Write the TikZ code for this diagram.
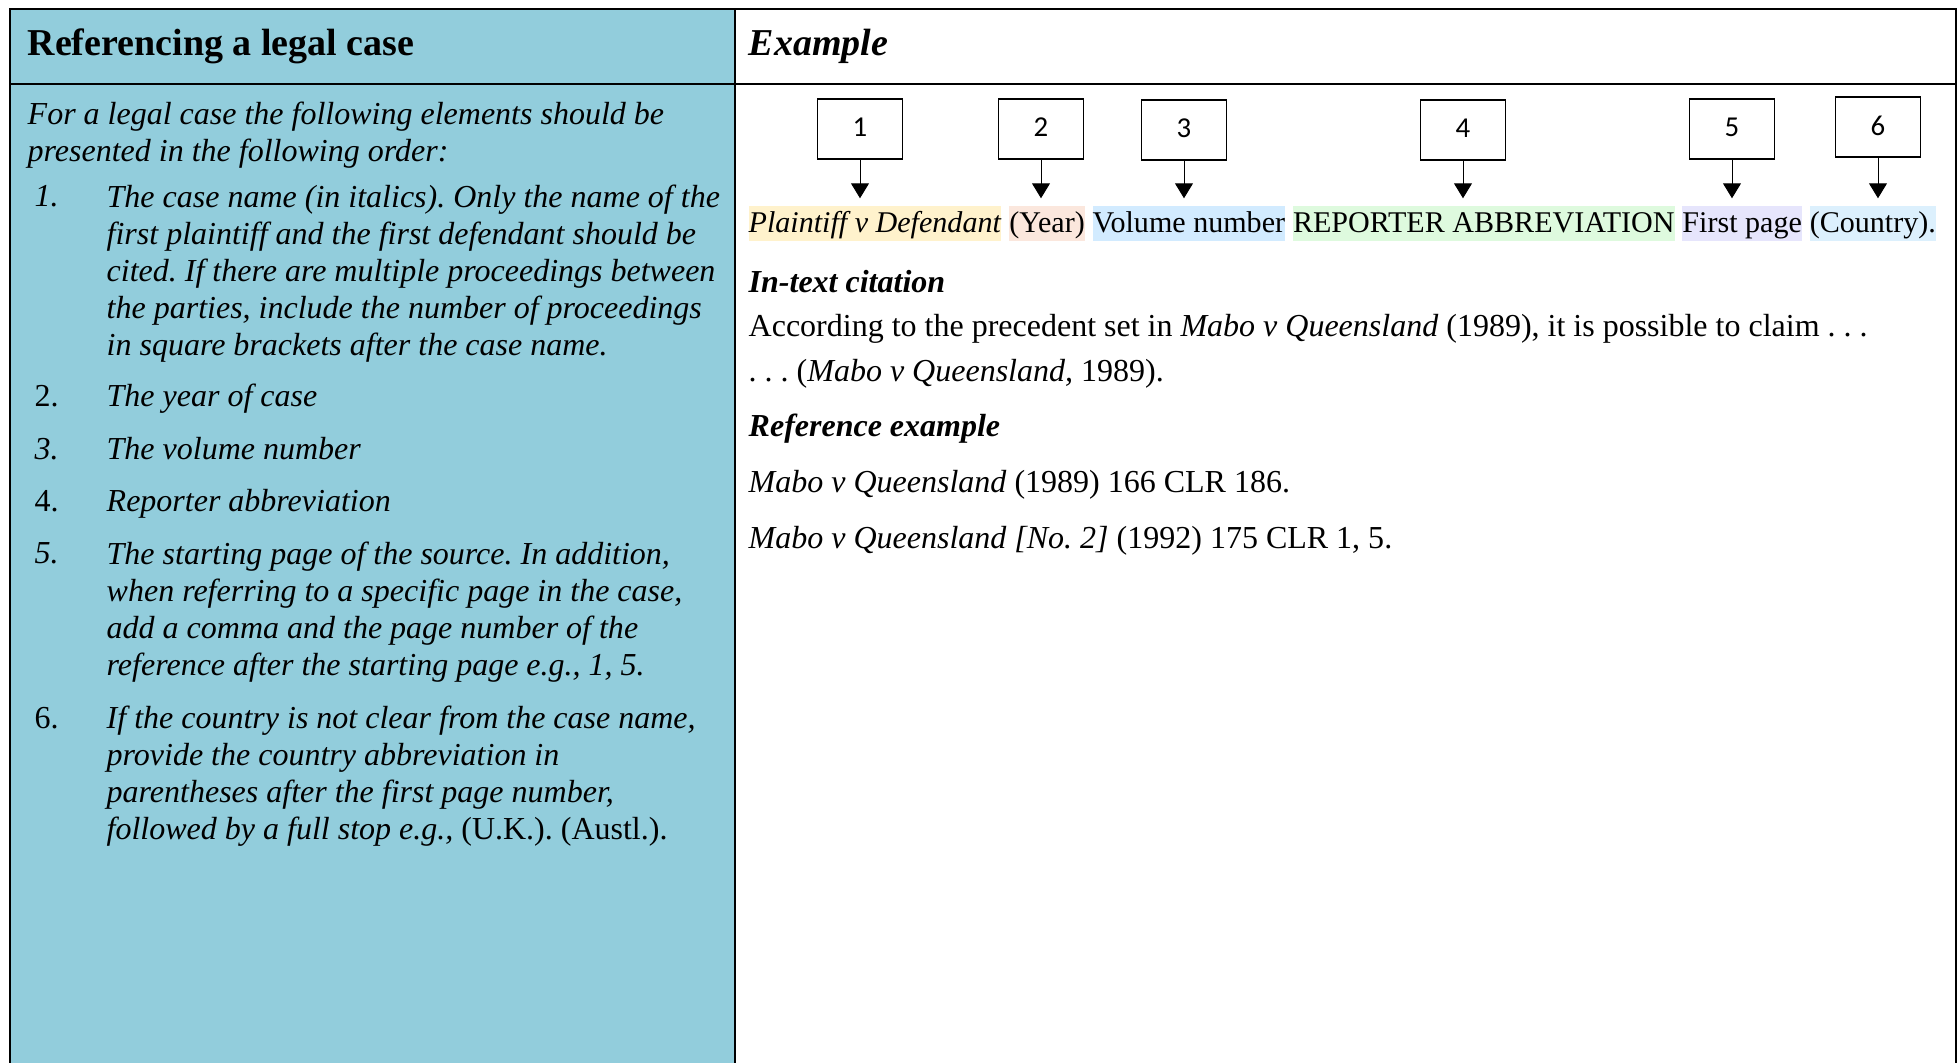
\documentclass[tikz,border=0pt]{standalone}
\usepackage{fontspec}
\setmainfont{Liberation Serif}
\newfontfamily\boxfont{Carlito}
\usetikzlibrary{arrows.meta,positioning}
\definecolor{cellblue}{RGB}{146,205,220}
\definecolor{hlyellow}{RGB}{255,242,204}
\definecolor{hlpink}{RGB}{251,231,221}
\definecolor{hlblue}{RGB}{210,235,255}
\definecolor{hlgreen}{RGB}{222,250,222}
\definecolor{hlviolet}{RGB}{230,229,252}
\definecolor{hlsky}{RGB}{220,240,253}
\newcommand{\bodysize}{\fontsize{9.1pt}{10.5pt}\selectfont\frenchspacing}
\newcommand{\headsize}{\fontsize{10.8pt}{12pt}\selectfont}

\begin{document}
\begin{tikzpicture}[x=0.01cm, y=-0.01cm,
    every node/.style={font=\bodysize, inner sep=0pt},
    tableline/.style={line width=0.02cm},
    numbox/.style={draw, line width=0.012cm, minimum width=0.85cm,
      minimum height=0.6cm, text depth=0.03cm,
      font=\boxfont\fontsize{8.2pt}{9pt}\selectfont},
    hl/.style={font=\fontsize{8.55pt}{10pt}\selectfont, text height=0.24cm,
      text depth=0.07cm, inner ysep=0.02cm},
    pointer/.style={-{Triangle[width=0.18cm,length=0.15cm]}, line width=0.01cm,
      shorten >=0.07cm},
    listtext/.style={anchor=base west, align=left, font=\bodysize\itshape}]
  \useasboundingbox (0,0) rectangle (1959,1063);

  % Table frame
  \fill[cellblue] (10,9) rectangle (735,1063);
  \draw[tableline] (10,1063) -- (10,9) -- (1956,9) -- (1956,1063);
  \draw[tableline] (10,84) -- (1956,84);
  \draw[line width=0.015cm] (735,9) -- (735,1063);

  % Header row
  \node[anchor=base west, font=\headsize\bfseries] (headL) at (27,55.5)
    {Referencing a legal case};
  \node[anchor=base west, font=\headsize\bfseries\itshape] (headR) at (748,55.5)
    {Example};

  % Left column: list of elements (base = last line)
  \node[listtext] (intro) at (27,161.5)
    {For a legal case the following elements should be\\
     presented in the following order:};
  \node[anchor=base west] (k1) at (34,206.5) {\textit{1.}};
  \node[listtext] (it1) at (106,355.5)
    {The case name (in italics). Only the name of the\\
     first plaintiff and the first defendant should be\\
     cited. If there are multiple proceedings between\\
     the parties, include the number of proceedings\\
     in square brackets after the case name.};
  \node[anchor=base west] (k2) at (34,406.5) {2.};
  \node[listtext] (it2) at (106,406.5) {The year of case};
  \node[anchor=base west] (k3) at (34,459.5) {\textit{3.}};
  \node[listtext] (it3) at (106,459.5) {The volume number};
  \node[anchor=base west] (k4) at (34,511.5) {4.};
  \node[listtext] (it4) at (106,511.5) {Reporter abbreviation};
  \node[anchor=base west] (k5) at (34,563.5) {\textit{5.}};
  \node[listtext] (it5) at (106,675.5)
    {The starting page of the source. In addition,\\
     when referring to a specific page in the case,\\
     add a comma and the page number of the\\
     reference after the starting page e.g., 1, 5.};
  \node[anchor=base west] (k6) at (34,728.5) {6.};
  \node[listtext] (it6) at (106,839.5)
    {If the country is not clear from the case name,\\
     provide the country abbreviation in\\
     parentheses after the first page number,\\
     followed by a full stop e.g., \textup{(U.K.). (Austl.).}};

  % Numbered boxes
  \node[numbox] (n1) at (860,129) {1};
  \node[numbox] (n2) at (1041,129) {2};
  \node[numbox] (n3) at (1184,130) {3};
  \node[numbox] (n4) at (1463,130) {4};
  \node[numbox] (n5) at (1732,129) {5};
  \node[numbox] (n6) at (1878,127) {6};

  % Highlighted citation parts
  \node[hl, fill=hlyellow, anchor=base west] (hl1) at (748,232)
    {\textit{Plaintiff v Defendant}};
  \node[hl, fill=hlpink, right=0.065cm of hl1] (hl2) {(Year)};
  \node[hl, fill=hlblue, right=0.065cm of hl2] (hl3) {Volume number};
  \node[hl, fill=hlgreen, right=0.065cm of hl3] (hl4) {REPORTER ABBREVIATION};
  \node[hl, fill=hlviolet, right=0.065cm of hl4] (hl5) {First page};
  \node[hl, fill=hlsky, right=0.065cm of hl5] (hl6) {(Country).};

  \foreach \i in {1,...,6}
    \draw[pointer] (n\i) -- (n\i |- hl\i.north);

  % Citation examples
  \node[anchor=base west, font=\bodysize\bfseries\itshape] (cite) at (748,292.5)
    {In-text citation};
  \node[anchor=base west] (cite1) at (748,336.5)
    {According to the precedent set in \textit{Mabo v Queensland} (1989), it is possible to claim . . .};
  \node[anchor=base west] (cite2) at (748,381.5)
    {. . . (\textit{Mabo v Queensland,} 1989).};
  \node[anchor=base west, font=\bodysize\bfseries\itshape] (refx) at (748,436.5)
    {Reference example};
  \node[anchor=base west] (ref1) at (748,492.5)
    {\textit{Mabo v Queensland} (1989) 166 CLR 186.};
  \node[anchor=base west] (ref2) at (748,548.5)
    {\textit{Mabo v Queensland [No. 2]} (1992) 175 CLR 1, 5.};
\end{tikzpicture}
\end{document}
